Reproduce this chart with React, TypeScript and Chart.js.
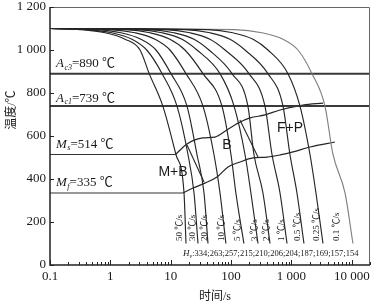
import React, { useEffect, useRef } from "react";
import { Chart, registerables } from "chart.js";

Chart.register(...registerables);

// ---------- data (time in s, temperature in °C) ----------
const curveTemps = [1100, 1095, 1080, 1050, 1000, 890, 739, 514, 335, 100];
const rate50 = [0.1, 0.31, 0.82, 1.75, 3.1, 4.4, 7.4, 12.2, 16.6, 17.9];
const rate30 = [0.1, 0.41, 1.06, 2.28, 4.0, 7.2, 12.7, 19.3, 24.3, 28.3];
const rate20 = [0.1, 0.58, 1.5, 3.2, 5.7, 10.1, 18.6, 27.2, 35.6, 41.4];
const rate10 = [0.1, 0.99, 2.56, 5.5, 9.7, 17.9, 34.2, 52, 65.5, 82];
const rate5 = [0.1, 1.75, 4.53, 9.7, 17.2, 34.2, 70.6, 99.5, 120, 163];
const rate3 = [0.1, 2.76, 7.16, 15.4, 27.2, 65.5, 112, 170, 213, 279];
const rate2 = [0.1, 4.36, 11.3, 24.3, 43, 103.5, 190, 239, 337, 441];
const rate1 = [0.1, 8.04, 20.8, 44.7, 79.3, 198, 364, 476, 646, 844];
const rate05 = [0.1, 17.2, 44.7, 95.9, 170, 408, 724, 944, 1233, 1611];
const rate025 = [0.1, 41.4, 107, 231, 408, 875, 1384, 2027, 2547, 3327];
const rate01 = [0.1, 116, 325, 724, 1282, 2188, 3591, 4875, 7709, 10440];
const curveTimes = [rate50, rate30, rate20, rate10, rate5, rate3, rate2, rate1, rate05, rate025, rate01];
const rateLabels = ["50 ℃/s", "30 ℃/s", "20 ℃/s", "10 ℃/s", "5 ℃/s", "3 ℃/s", "2 ℃/s", "1 ℃/s", "0.5 ℃/s", "0.25 ℃/s", "0.1 ℃/s"];
const hardness = [334, 263, 257, 215, 210, 206, 204, 187, 169, 157, 154];

const isoNames = ["A", "A", "M", "M"];
const isoSubs = ["c3", "c1", "s", "f"];
const isoTemps = [890, 739, 514, 335];
const acTimes = [0.1, 20000];
const msTimes = [0.1, 12];
const mfTimes = [0.1, 16];

const upperTimes = [12, 18.6, 34.2, 54, 85.5, 130, 206, 364, 646, 1552, 3327];
const upperTemps = [514, 563, 591, 595, 628, 660, 684, 698, 721, 744, 753];
const lowerTimes = [16, 23.4, 36.9, 58.4, 88.7, 140, 231, 393, 646, 1060, 2027, 5260];
const lowerTemps = [335, 358, 381, 409, 456, 479, 498, 502, 512, 526, 549, 572];
const diag1Times = [18.6, 35.6];
const diag1Temps = [558, 386];
const diag2Times = [140, 279];
const diag2Temps = [674, 502];

const regionLabels = ["M+B", "B", "F+P"];

const xTickValues = [0.1, 1, 10, 100, 1000, 10000];
const xTickLabels = ["0.1", "1", "10", "100", "1 000", "10 000"];
const yTickLabels = ["0", "200", "400", "600", "800", "1 000", "1 200"];
const xTitle = "时间/s";
const yTitle = "温度/℃";

// ---------- annotation placement (data units) ----------
const regionTimes = [10.9, 85.5, 944];
const regionTemps = [433, 558, 637];
const rateLabelTimes = [14.2, 23.4, 36.9, 70.6, 130, 249, 393, 697, 1282, 2650, 5680];
const isoBaselineOffsets = [6.5, 4.5, 6.5, 6.5];

const SERIF = "'Liberation Serif', 'Noto Sans CJK SC', serif";
const SANS = "'Liberation Sans', Arial, sans-serif";

const pts = (xs: number[], ys: number[]) => xs.map((x, i) => ({ x, y: ys[i] }));
const flat = (xs: number[], y: number) => xs.map((x) => ({ x, y }));

const annotPlugin = {
  id: "annot",
  afterDatasetsDraw(chart: any) {
    const { ctx, chartArea: a, scales } = chart;
    const xs = scales.x;
    const ys = scales.y;
    ctx.save();
    // frame
    ctx.strokeStyle = "#666";
    ctx.lineWidth = 1;
    ctx.beginPath();
    ctx.moveTo(a.left, a.top + 0.5);
    ctx.lineTo(a.right - 0.5, a.top + 0.5);
    ctx.lineTo(a.right - 0.5, a.bottom);
    ctx.stroke();
    ctx.strokeStyle = "#222";
    ctx.lineWidth = 1.5;
    ctx.beginPath();
    ctx.moveTo(a.left, a.top);
    ctx.lineTo(a.left, a.bottom);
    ctx.lineTo(a.right, a.bottom);
    ctx.stroke();

    // inner ticks
    ctx.lineWidth = 1;
    ctx.strokeStyle = "#222";
    ctx.beginPath();
    for (let v = 0; v <= 1200; v += 200) {
      const y = Math.round(ys.getPixelForValue(v)) + 0.5;
      ctx.moveTo(a.left, y);
      ctx.lineTo(a.left + 4, y);
    }
    for (let e = -1; e <= 4; e++) {
      for (let m = 1; m <= 9; m++) {
        const v = m * Math.pow(10, e);
        if (v > 20000) break;
        const x = Math.round(xs.getPixelForValue(v)) + 0.5;
        ctx.moveTo(x, a.bottom);
        ctx.lineTo(x, a.bottom - (m === 1 ? 5 : 3));
      }
    }
    ctx.stroke();

    ctx.fillStyle = "#1a1a1a";
    ctx.textBaseline = "alphabetic";
    ctx.textAlign = "left";
    // isotherm labels
    isoNames.forEach((n, i) => {
      let x = a.left + 6;
      const y = ys.getPixelForValue(isoTemps[i]) - isoBaselineOffsets[i];
      ctx.font = `italic 13px ${SERIF}`;
      ctx.fillText(n, x, y);
      x += ctx.measureText(n).width + 0.5;
      ctx.font = `italic 8px ${SERIF}`;
      ctx.fillText(isoSubs[i], x, y + 2.5);
      x += ctx.measureText(isoSubs[i]).width;
      ctx.font = `13px ${SERIF}`;
      ctx.fillText(`=${isoTemps[i]} ℃`, x, y);
    });

    // region labels
    ctx.font = `14px ${SANS}`;
    ctx.textAlign = "center";
    ctx.textBaseline = "middle";
    regionLabels.forEach((l, i) => {
      ctx.fillText(l, xs.getPixelForValue(regionTimes[i]), ys.getPixelForValue(regionTemps[i]));
    });

    // rate labels (rotated)
    ctx.font = `9px ${SERIF}`;
    ctx.textAlign = "left";
    ctx.textBaseline = "middle";
    const by = ys.getPixelForValue(0) - 24;
    rateLabels.forEach((l, i) => {
      ctx.save();
      ctx.translate(xs.getPixelForValue(rateLabelTimes[i]), by);
      ctx.rotate(-Math.PI / 2);
      ctx.fillText(l, 0, 0);
      ctx.restore();
    });

    // hardness line
    ctx.textBaseline = "alphabetic";
    let hx = xs.getPixelForValue(16);
    const hy = ys.getPixelForValue(0) - 9;
    ctx.font = `italic 9px ${SERIF}`;
    ctx.fillText("H", hx, hy);
    hx += ctx.measureText("H").width;
    ctx.font = `italic 6px ${SERIF}`;
    ctx.fillText("v", hx, hy + 2);
    hx += ctx.measureText("v").width;
    ctx.font = `8.5px ${SERIF}`;
    ctx.fillText(":" + hardness.join(";"), hx, hy);

    // axis titles
    ctx.font = `12px ${SERIF}`;
    ctx.textAlign = "center";
    ctx.textBaseline = "middle";
    ctx.fillText(xTitle, (a.left + a.right) / 2 + 5, chart.height - 8);
    ctx.save();
    ctx.translate(12, ys.getPixelForValue(720));
    ctx.rotate(-Math.PI / 2);
    ctx.fillText(yTitle, 0, 0);
    ctx.restore();

    ctx.restore();
  },
};

export default function App() {
  const ref = useRef<HTMLCanvasElement | null>(null);
  useEffect(() => {
    if (!ref.current) return;
    const line = (data: any[], color: string, width: number, smooth = true) => ({
      data,
      borderColor: color,
      borderWidth: width,
      pointRadius: 0,
      fill: false,
      cubicInterpolationMode: smooth ? "monotone" : "default",
      tension: 0,
    });
    const datasets: any[] = [];
    curveTimes.forEach((ts, i) => {
      datasets.push(line(pts(ts, curveTemps), i === curveTimes.length - 1 ? "#808080" : "#262626", 1.15));
    });
    datasets.push(line(flat(acTimes, isoTemps[0]), "#3a3a3a", 2, false));
    datasets.push(line(flat(acTimes, isoTemps[1]), "#3a3a3a", 2, false));
    datasets.push(line(flat(msTimes, isoTemps[2]), "#333", 1.2, false));
    datasets.push(line(flat(mfTimes, isoTemps[3]), "#333", 1.2, false));
    datasets.push(line(pts(upperTimes, upperTemps), "#262626", 1.2));
    datasets.push(line(pts(lowerTimes, lowerTemps), "#262626", 1.2));
    datasets.push(line(pts(diag1Times, diag1Temps), "#262626", 1.1, false));
    datasets.push(line(pts(diag2Times, diag2Temps), "#262626", 1.1, false));

    const tickFont = { family: SERIF, size: 13, lineHeight: 1 };
    const chart = new Chart(ref.current, {
      type: "line",
      data: { datasets },
      options: {
        animation: false,
        responsive: false,
        events: [],
        layout: { padding: { top: 7, right: 11, left: 0, bottom: 0 } },
        plugins: { legend: { display: false }, tooltip: { enabled: false } },
        scales: {
          x: {
            type: "logarithmic",
            min: 0.1,
            max: 20000,
            grid: { display: false, drawTicks: false },
            border: { display: false },
            ticks: {
              autoSkip: false,
              maxRotation: 0,
              padding: 5,
              color: "#1a1a1a",
              font: tickFont,
              callback: (v: any) => {
                const n = Number(v);
                const i = xTickValues.findIndex((t) => Math.abs(t - n) / t < 1e-6);
                return i >= 0 ? xTickLabels[i] : "";
              },
            },
            afterFit: (s: any) => {
              s.height = 40;
              s.paddingLeft = 0;
              s.paddingRight = 0;
            },
          },
          y: {
            type: "linear",
            min: 0,
            max: 1200,
            grid: { display: false, drawTicks: false },
            border: { display: false },
            ticks: {
              stepSize: 200,
              padding: 4,
              color: "#1a1a1a",
              font: tickFont,
              callback: (v: any) => yTickLabels[Math.round(Number(v) / 200)] ?? "",
            },
            afterFit: (s: any) => {
              s.width = 50;
              s.paddingTop = 0;
              s.paddingBottom = 0;
            },
          },
        },
      } as any,
      plugins: [annotPlugin],
    });
    return () => chart.destroy();
  }, []);
  return (
    <div style={{ position: "fixed", left: 0, top: 0, width: 381, height: 305, background: "#fff" }}>
      <canvas ref={ref} width={381} height={305} />
    </div>
  );
}
